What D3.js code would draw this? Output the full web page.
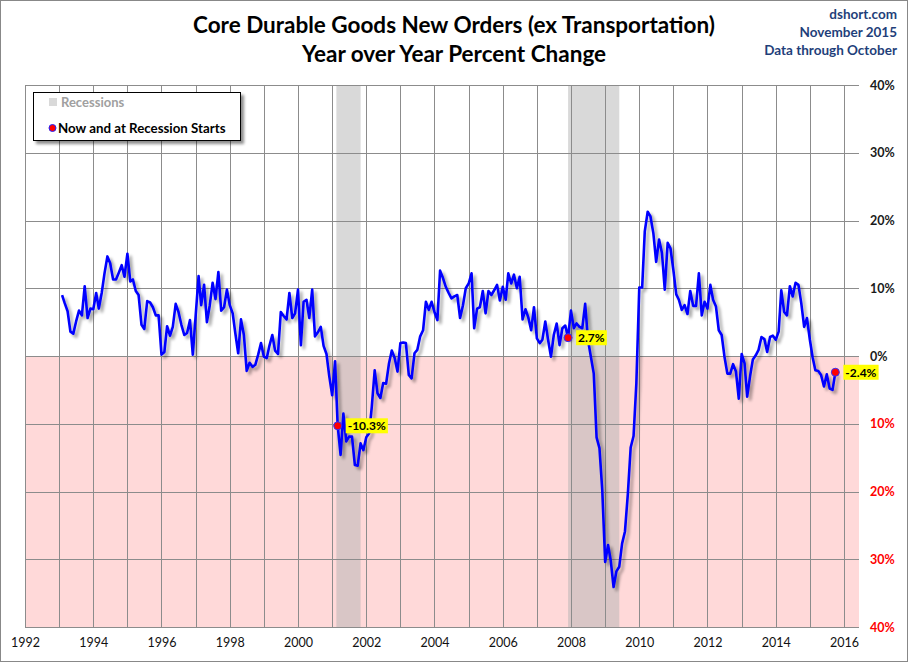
<!DOCTYPE html>
<html><head><meta charset="utf-8">
<script src="https://cdn.jsdelivr.net/npm/d3@7"></script>
<style>
body{margin:0;background:#fff}
svg{display:block}
text{font-family:Lato,"Open Sans","DejaVu Sans",sans-serif}
</style>
</head><body>
<svg id="chart" width="908" height="662"></svg>
<script>
// ---- DATA ----
const startMonth = "1993-02";
const yoyValues = [
 9.0,7.8,6.6,3.6,3.3,5.1,6.7,6.0,10.3,5.6,7.0,6.9,
 9.3,7.0,9.3,12.2,14.7,13.7,11.3,11.3,12.3,13.4,11.7,15.1,
 11.0,11.3,9.6,9.0,4.6,4.0,8.1,7.9,7.2,6.0,6.0,0.2,
 0.6,4.4,3.0,4.3,7.7,6.5,4.6,3.1,3.4,5.3,0.2,6.0,
 11.8,7.5,10.5,5.0,7.5,10.8,8.4,12.4,6.7,7.2,9.8,7.5,
 6.3,3.4,0.4,5.4,3.1,-2.2,-1.0,-1.6,-1.3,0.2,1.9,-0.1,
 -0.3,1.5,3.1,0.8,0.3,6.5,5.9,5.4,9.3,5.6,6.3,9.8,
 1.6,8.0,8.3,5.6,9.8,2.9,3.5,4.3,1.5,0.3,-3.0,-5.8,
 -0.8,-10.3,-14.6,-8.5,-12.6,-11.9,-11.9,-16.1,-16.2,-12.9,-13.9,-12.0,
 -11.4,-7.5,-2.1,-5.5,-6.2,-4.0,-4.1,-1.1,0.8,-0.3,-2.3,1.9,
 2.0,1.9,-2.8,-3.3,0.4,0.9,2.9,3.8,8.0,6.8,8.0,6.5,
 5.3,12.6,11.5,10.2,9.3,8.5,8.8,9.0,5.6,7.5,10.0,10.7,
 12.2,4.1,7.0,7.2,9.6,6.3,9.6,9.0,9.7,10.5,8.2,10.2,
 8.3,12.2,10.7,12.0,10.0,11.7,5.4,6.9,5.7,3.8,7.2,2.6,
 1.9,2.4,5.1,2.4,-0.1,3.1,4.8,1.6,4.1,4.5,2.7,6.7,
 4.1,4.8,4.3,4.1,7.7,2.4,-0.1,-2.6,-12.0,-13.6,-19.8,-30.4,
 -27.9,-30.1,-34.1,-31.8,-31.1,-27.7,-25.9,-20.3,-13.5,-11.8,-4.0,10.1,
 10.1,18.4,21.3,20.6,18.1,13.9,17.2,15.2,9.8,16.7,15.9,12.7,
 9.1,8.3,6.8,7.5,6.2,9.6,7.4,7.4,12.2,6.0,8.0,7.0,
 10.5,8.3,7.3,3.8,3.1,-0.1,-2.6,-2.6,-1.2,-2.3,-6.3,0.3,
 -1.1,-6.0,-3.0,-0.5,0.1,0.9,2.8,2.5,0.6,2.8,3.0,2.4,
 3.6,9.7,6.5,6.0,10.3,8.8,10.8,10.5,7.8,4.3,5.6,2.4,
 -0.3,-2.1,-2.2,-2.8,-4.5,-2.7,-4.8,-5.0,-2.4
];
const recessions = [["2001-02-15","2001-11-01"],["2007-12-01","2009-06-01"]];
const highlightMonths = ["2001-03","2007-12","2015-10"];
const highlightLabels = ["-10.3%","2.7%","-2.4%"];
const yTickValues = [40,30,20,10,0,-10,-20,-30,-40];
const xDomainDates = ["1992-01-01","2016-06-10"];
const titleLines = ["Core Durable Goods New Orders (ex Transportation)","Year over Year Percent Change"];
const sourceLines = ["dshort.com","November 2015","Data through October"];
const legendLabels = ["Recessions","Now and at Recession Starts"];

// ---- CHART ----
const svg = d3.select("#chart");
const W = 908, H = 662;
const parseDay = d3.utcParse("%Y-%m-%d");
const parseMonth = d3.utcParse("%Y-%m");
const start = parseMonth(startMonth);
const data = yoyValues.map((v,i)=>({date:d3.utcMonth.offset(start,i), value:v}));

const x = d3.scaleUtc().domain(xDomainDates.map(parseDay)).range([25,859]);
const y = d3.scaleLinear().domain([-40,40]).range([627,85]);

const defs = svg.append("defs");
const f = defs.append("filter").attr("id","shadow").attr("x","-5%").attr("y","-5%").attr("width","115%").attr("height","115%");
f.append("feGaussianBlur").attr("in","SourceAlpha").attr("stdDeviation",1.6).attr("result","b");
f.append("feOffset").attr("in","b").attr("dx",2.5).attr("dy",3).attr("result","o");
f.append("feComponentTransfer").attr("in","o").attr("result","s")
  .append("feFuncA").attr("type","linear").attr("slope",0.35);
const m = f.append("feMerge"); m.append("feMergeNode").attr("in","s"); m.append("feMergeNode").attr("in","SourceGraphic");

const f2 = defs.append("filter").attr("id","boxshadow").attr("x","-10%").attr("y","-20%").attr("width","130%").attr("height","150%");
f2.append("feGaussianBlur").attr("in","SourceAlpha").attr("stdDeviation",1.5).attr("result","b");
f2.append("feOffset").attr("in","b").attr("dx",3).attr("dy",3).attr("result","o");
f2.append("feComponentTransfer").attr("in","o").attr("result","s")
  .append("feFuncA").attr("type","linear").attr("slope",0.45);
const m2 = f2.append("feMerge"); m2.append("feMergeNode").attr("in","s"); m2.append("feMergeNode").attr("in","SourceGraphic");

// outer border
svg.append("rect").attr("x",0.5).attr("y",0.5).attr("width",W-1).attr("height",H-1)
  .attr("fill","#fff").attr("stroke","#888");

const [x0,x1] = x.range();
// negative zone
svg.append("rect").attr("x",x0).attr("width",x1-x0).attr("y",y(0)).attr("height",y(-40)-y(0))
  .attr("fill","#ffd9d9");

// recessions
svg.append("g").selectAll("rect").data(recessions).join("rect")
  .attr("x",d=>x(parseDay(d[0]))).attr("width",d=>x(parseDay(d[1]))-x(parseDay(d[0])))
  .attr("y",y(40)).attr("height",y(-40)-y(40))
  .attr("fill","#b4b4b4").attr("opacity",0.5);

// gridlines
const years = d3.utcYear.range(parseDay("1992-01-01"), parseDay("2016-02-01"));
svg.append("g").selectAll("line").data(years).join("line")
  .attr("x1",d=>Math.round(x(d))+0.5).attr("x2",d=>Math.round(x(d))+0.5)
  .attr("y1",y(40)).attr("y2",y(-40))
  .attr("stroke","#8c8c8c").attr("stroke-width",1);
svg.append("g").selectAll("line").data(yTickValues).join("line")
  .attr("x1",x0).attr("x2",x1)
  .attr("y1",d=>Math.round(y(d))+0.5).attr("y2",d=>Math.round(y(d))+0.5)
  .attr("stroke","#8c8c8c").attr("stroke-width",1);

// y axis labels (right)
const yAxis = d3.axisRight(y).tickValues(yTickValues).tickSize(0).tickPadding(0)
  .tickFormat(d=>Math.abs(d)+"%");
const gy = svg.append("g").attr("transform","translate(870,0)").call(yAxis);
gy.select(".domain").remove();
gy.selectAll("text").attr("font-family","Lato, sans-serif").attr("font-size",12.5).attr("font-weight","bold")
  .attr("fill",d=>d<0?"#ff0000":"#1a1a1a").attr("text-anchor","start");

// x axis labels
const labelYears = d3.utcYear.every(2).range(parseDay("1992-01-01"), parseDay("2016-02-01"));
const xAxis = d3.axisBottom(x).tickValues(labelYears).tickSize(0).tickPadding(0)
  .tickFormat(d3.utcFormat("%Y"));
const gx = svg.append("g").attr("transform","translate(0,638)").call(xAxis);
gx.select(".domain").remove();
gx.selectAll("text").attr("font-family","Lato, sans-serif").attr("font-size",12.5).attr("fill","#111");

// line
const line = d3.line().x(d=>x(d.date)).y(d=>y(d.value));
svg.append("path").datum(data).attr("d",line).attr("fill","none")
  .attr("stroke","#0000ff").attr("stroke-width",2.6).attr("stroke-linejoin","round")
  .attr("filter","url(#shadow)");

// highlights
const hl = highlightMonths.map((mo,i)=>{
  const dt = parseMonth(mo);
  const pt = data.find(d=>+d.date===+dt);
  return {date:dt, value:pt.value, label:highlightLabels[i]};
});
const hg = svg.append("g").selectAll("g").data(hl).join("g");
hg.append("circle").attr("cx",d=>x(d.date)).attr("cy",d=>y(d.value)).attr("r",4)
  .attr("fill","#ff0000").attr("stroke","#3030ff").attr("stroke-width",1);
hg.each(function(d){
  const g = d3.select(this);
  const t = g.append("text").attr("x",x(d.date)+10).attr("y",y(d.value)+4.5)
    .attr("font-size",12).attr("font-weight","bold").attr("fill","#000").text(d.label);
  const bb = t.node().getBBox();
  g.insert("rect","text").attr("x",bb.x-2).attr("y",bb.y).attr("width",bb.width+4).attr("height",bb.height)
    .attr("fill","#ffff00");
});

// titles
svg.append("g").selectAll("text").data(titleLines).join("text")
  .attr("x",454).attr("y",(d,i)=>33+i*29).attr("text-anchor","middle")
  .attr("font-size",22.5).attr("font-weight","bold").attr("fill","#000").text(d=>d);
svg.append("g").selectAll("text").data(sourceLines).join("text")
  .attr("x",897).attr("y",(d,i)=>19+i*18).attr("text-anchor","end")
  .attr("font-size",13.5).attr("fill","#1f3f7a").attr("font-weight","bold").text(d=>d);

// legend
const lg = svg.append("g");
lg.append("rect").attr("x",33.5).attr("y",92.5).attr("width",207).attr("height",48)
  .attr("fill","#fff").attr("stroke","#000").attr("filter","url(#boxshadow)");
lg.append("rect").attr("x",49).attr("y",98).attr("width",8).attr("height",8).attr("fill","#d9d9d9");
lg.append("text").attr("x",61).attr("y",107).attr("font-size",13).attr("font-weight","bold")
  .attr("fill","#a0a0a0").text(legendLabels[0]);
lg.append("circle").attr("cx",52.5).attr("cy",128).attr("r",3.5).attr("fill","#ff0000").attr("stroke","#2020ff").attr("stroke-width",1);
lg.append("text").attr("x",58).attr("y",132.5).attr("font-size",13.3).attr("font-weight","bold")
  .attr("fill","#000").text(legendLabels[1]);
</script>
</body></html>
